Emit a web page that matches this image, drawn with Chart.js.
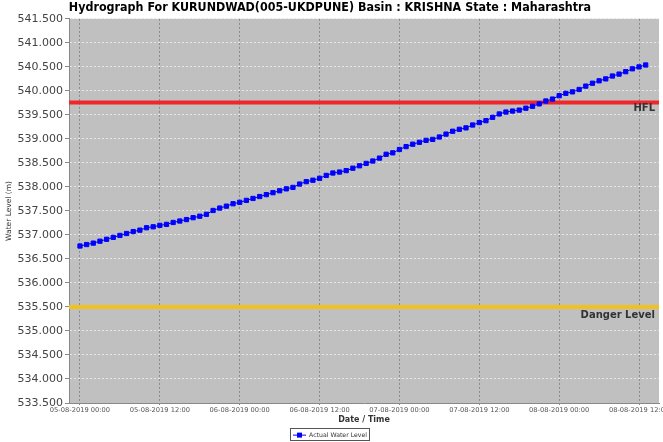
<!DOCTYPE html>
<html>
<head>
<meta charset="utf-8">
<script src="https://cdn.jsdelivr.net/npm/chart.js@4/dist/chart.umd.min.js"></script>
<style>
html,body{margin:0;padding:0;background:#fff;}
#wrap{width:663px;height:442px;}
</style>
</head>
<body>
<div id="wrap"><canvas id="hydro"></canvas></div>
<script>
// hours since 05-08-2019 00:00, one reading per hour
let hours=[];
for(let h=0;h<=85;h++) hours.push(h);

let waterLevel=[
536.77,536.80,536.83,536.87,536.91,536.95,536.99,537.03,537.07,537.10,
537.15,537.17,537.20,537.22,537.26,537.29,537.32,537.36,537.39,537.43,
537.51,537.56,537.60,537.65,537.68,537.72,537.76,537.80,537.84,537.88,
537.92,537.96,537.99,538.06,538.11,538.14,538.18,538.24,538.29,538.31,
538.34,538.39,538.44,538.49,538.54,538.60,538.68,538.71,538.78,538.84,
538.89,538.93,538.97,538.99,539.04,539.10,539.16,539.20,539.23,539.29,
539.34,539.38,539.45,539.52,539.56,539.58,539.60,539.64,539.68,539.73,
539.79,539.83,539.90,539.95,539.98,540.03,540.10,540.16,540.21,540.25,
540.31,540.35,540.40,540.46,540.50,540.54];

let hfl=539.76;
let dangerLevel=535.5;
let xTicks=[0,12,24,36,48,60,72,84];
let xMin=-1.65,xMax=87;

function tickLabel(v){
    let day=5+Math.floor(v/24);
    let hh=v%24;
    return "0"+day+"-08-2019 "+(hh<10?"0"+hh:hh)+":00";
}

// legend marker: line with a square
let marker=document.createElement("canvas");
marker.width=13;marker.height=7;
let mc=marker.getContext("2d");
mc.strokeStyle="#0000ff";mc.lineWidth=1;
mc.beginPath();mc.moveTo(0,3.5);mc.lineTo(13,3.5);mc.stroke();
mc.fillStyle="#0000ff";mc.fillRect(4,1,5,5);

const plotBg={
    id:"plotBg",
    beforeDraw(chart){
        let a=chart.chartArea,c=chart.ctx;
        c.save();
        c.fillStyle="#c0c0c0";
        c.fillRect(a.left,a.top,a.right-a.left,a.bottom-a.top);
        c.restore();
    },
    afterDraw(chart){
        let c=chart.ctx,a=chart.chartArea,y=chart.scales.y;
        c.save();
        c.font="bold 10px 'DejaVu Sans'";
        c.fillStyle="#333";
        c.textAlign="right";
        c.textBaseline="middle";
        c.fillText("HFL",a.right-4,y.getPixelForValue(hfl)+6);
        c.fillText("Danger Level",a.right-4,y.getPixelForValue(dangerLevel)+8);
        // legend frame
        let hb=chart.legend.legendHitBoxes[0];
        if(hb){
            c.strokeStyle="#555";c.lineWidth=1;
            c.strokeRect(Math.round(hb.left)-2.5,Math.round(hb.top)-3.5,Math.round(hb.width)+5,12);
        }
        c.restore();
    }
};

new Chart(document.getElementById("hydro"),{
    type:"line",
    data:{
        datasets:[{
            label:"Actual Water Level",
            data:hours.map((h,i)=>({x:h,y:waterLevel[i]})),
            borderColor:"#0000ff",
            backgroundColor:"#0000ff",
            borderWidth:1,
            pointStyle:"rect",
            pointRadius:3,
            pointHoverRadius:3,
            tension:0
        },{
            label:"HFL",
            data:[{x:xMin,y:hfl},{x:xMax,y:hfl}],
            borderColor:"#f0262a",
            borderWidth:4,
            pointRadius:0
        },{
            label:"Danger Level",
            data:[{x:xMin,y:dangerLevel},{x:xMax,y:dangerLevel}],
            borderColor:"#f2c21c",
            borderWidth:4,
            pointRadius:0
        }]
    },
    options:{
        responsive:true,
        maintainAspectRatio:false,
        animation:false,
        layout:{padding:{left:0,right:3,top:0,bottom:0}},
        plugins:{
            title:{
                display:true,
                text:"Hydrograph For KURUNDWAD(005-UKDPUNE) Basin : KRISHNA State : Maharashtra",
                color:"#000",
                font:{family:"'DejaVu Sans Condensed','DejaVu Sans'",size:12.4,weight:"bold"},
                padding:{top:0,bottom:4}
            },
            legend:{
                position:"bottom",
                maxHeight:10,
                labels:{
                    filter:item=>item.datasetIndex==0,
                    usePointStyle:true,
                    pointStyle:marker,
                    pointStyleWidth:13,
                    color:"#333",
                    padding:0,
                    font:{family:"'DejaVu Sans'",size:6.2}
                },
                onClick:null
            },
            tooltip:{enabled:false}
        },
        scales:{
            x:{
                type:"linear",
                min:xMin,
                max:xMax,
                afterBuildTicks:s=>{s.ticks=xTicks.map(v=>({value:v}));},
                afterFit:s=>{s.height=29;s.paddingLeft=0;s.paddingRight=0;},
                ticks:{
                    callback:v=>tickLabel(v),
                    maxRotation:0,
                    autoSkip:false,
                    color:"#555",
                    padding:1,
                    font:{family:"'DejaVu Sans'",size:6.7}
                },
                grid:{color:"#8a8a8a",tickColor:"#8a8a8a",tickLength:2,lineWidth:1},
                border:{color:"#888",dash:[2,2]},
                title:{
                    display:true,
                    text:"Date / Time",
                    color:"#333",
                    font:{family:"'DejaVu Sans'",size:8,weight:"bold"},
                    padding:{top:0,bottom:7}
                }
            },
            y:{
                min:533.5,
                max:541.5,
                afterFit:s=>{s.width=69;},
                ticks:{
                    stepSize:0.5,
                    callback:v=>v.toFixed(3),
                    color:"#444",
                    padding:2,
                    font:{family:"'DejaVu Sans'",size:11}
                },
                grid:{color:"#e6e6e6",tickColor:"#888",tickLength:4,lineWidth:1},
                border:{color:"#888",dash:[2,2]},
                title:{
                    display:true,
                    text:"Water Level (m)",
                    color:"#333",
                    font:{family:"'DejaVu Sans'",size:7.5},
                    padding:{top:5}
                }
            }
        }
    },
    plugins:[plotBg]
});
</script>
</body>
</html>
